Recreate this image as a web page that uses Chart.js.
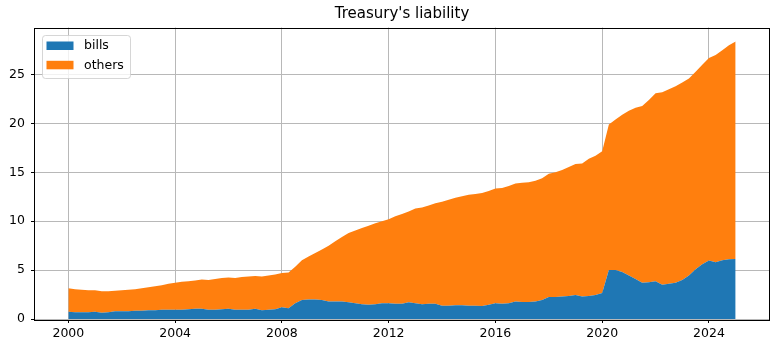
<!DOCTYPE html>
<html lang="en">
<head>
    <meta charset="UTF-8" />
    <title>Treasury's liability</title>
    <script src="https://cdn.jsdelivr.net/npm/chart.js"></script>
    <style>
        body {
            margin: 0;
            background: #fff;
        }
        canvas {
            display: block;
        }
    </style>
</head>
<body>
    <canvas id="chart" width="780" height="352"></canvas>

    <script>
        // quarterly, 2000Q1 .. 2025Q1
        const firstYear = 2000;
        const bills = [
            0.75, 0.70, 0.70, 0.70, 0.75, 0.65, 0.70, 0.80,
            0.80, 0.80, 0.85, 0.85, 0.90, 0.90, 0.95, 0.95,
            0.95, 0.95, 1.00, 1.05, 1.05, 0.95, 0.95, 1.00,
            1.05, 0.95, 0.95, 0.95, 1.05, 0.90, 0.95, 1.00,
            1.20, 1.10, 1.60, 1.95, 2.00, 2.00, 1.95, 1.80,
            1.78, 1.78, 1.72, 1.60, 1.50, 1.47, 1.50, 1.60,
            1.60, 1.55, 1.55, 1.72, 1.60, 1.50, 1.55, 1.55,
            1.35, 1.35, 1.40, 1.40, 1.35, 1.35, 1.33, 1.45,
            1.60, 1.55, 1.60, 1.78, 1.75, 1.74, 1.80, 1.95,
            2.25, 2.25, 2.30, 2.35, 2.46, 2.30, 2.36, 2.46,
            2.65, 5.00, 5.00, 4.80, 4.45, 4.10, 3.72, 3.75,
            3.85, 3.50, 3.60, 3.72, 4.00, 4.45, 5.10, 5.60,
            5.98, 5.80, 6.00, 6.10, 6.15
        ];
        const others = [
            2.40, 2.35, 2.30, 2.25, 2.20, 2.20, 2.15, 2.10,
            2.15, 2.20, 2.20, 2.30, 2.35, 2.45, 2.50, 2.65,
            2.75, 2.85, 2.85, 2.90, 3.00, 3.05, 3.15, 3.20,
            3.20, 3.25, 3.35, 3.40, 3.35, 3.45, 3.50, 3.55,
            3.50, 3.65, 3.75, 4.05, 4.40, 4.75, 5.15, 5.70,
            6.17, 6.62, 7.08, 7.45, 7.80, 8.08, 8.30, 8.40,
            8.60, 8.95, 9.20, 9.28, 9.70, 9.90, 10.05, 10.30,
            10.65, 10.85, 11.00, 11.15, 11.35, 11.45, 11.57, 11.65,
            11.75, 11.85, 12.00, 12.07, 12.20, 12.26, 12.35, 12.45,
            12.60, 12.75, 12.95, 13.20, 13.39, 13.60, 14.04, 14.24,
            14.50, 14.90, 15.40, 16.10, 16.85, 17.50, 18.08, 18.65,
            19.25, 19.70, 19.90, 20.08, 20.20, 20.15, 20.20, 20.40,
            20.72, 21.20, 21.50, 21.90, 22.25
        ];
        const xTicks = [2000, 2004, 2008, 2012, 2016, 2020, 2024];
        const yTicks = [0, 5, 10, 15, 20, 25];

        const quarters = bills.map((_, i) => firstYear + i / 4);

        const font = { family: "'DejaVu Sans', sans-serif", size: 12.5 };

        // frame + legend box, drawn last so they sit on top
        const frameAndLegend = {
            id: 'frameAndLegend',
            afterDraw(chart) {
                const ctx = chart.ctx;
                const a = chart.chartArea;
                ctx.save();
                ctx.strokeStyle = '#000';
                ctx.lineWidth = 1;
                ctx.strokeRect(Math.round(a.left) - 0.5, Math.round(a.top) + 0.5,
                    Math.round(a.right - a.left) + 1, Math.round(a.bottom - a.top));

                // legend
                const bx = a.left + 7, by = a.top + 7.5, bw = 88, bh = 43;
                ctx.globalAlpha = 0.8;
                ctx.fillStyle = '#fff';
                ctx.strokeStyle = '#cccccc';
                ctx.beginPath();
                ctx.roundRect(bx + 0.5, by + 0.5, bw, bh, 3);
                ctx.fill();
                ctx.stroke();
                ctx.globalAlpha = 1;

                ctx.font = font.size + 'px ' + font.family;
                ctx.textBaseline = 'middle';
                chart.data.datasets.forEach((ds, i) => {
                    const y = by + 6.5 + i * 19.3;
                    ctx.fillStyle = ds.backgroundColor;
                    ctx.fillRect(bx + 4.5, y, 27, 8.5);
                    ctx.fillStyle = '#000';
                    ctx.fillText(ds.label, bx + 42, y + 4.5);
                });
                ctx.restore();
            }
        };

        new Chart(document.getElementById('chart'), {
            type: 'line',
            data: {
                datasets: [
                    {
                        label: 'bills',
                        data: quarters.map((q, i) => ({ x: q, y: bills[i] })),
                        backgroundColor: '#1f77b4',
                        borderColor: '#1f77b4',
                        borderWidth: 0,
                        pointRadius: 0,
                        fill: 'origin'
                    },
                    {
                        label: 'others',
                        data: quarters.map((q, i) => ({ x: q, y: others[i] })),
                        backgroundColor: '#ff7f0e',
                        borderColor: '#ff7f0e',
                        borderWidth: 0,
                        pointRadius: 0,
                        fill: '-1'
                    }
                ]
            },
            options: {
                responsive: false,
                animation: false,
                devicePixelRatio: 1,
                layout: { padding: { left: 0, right: 11, top: 0, bottom: 0 } },
                plugins: {
                    legend: { display: false },
                    tooltip: { enabled: false },
                    title: {
                        display: true,
                        text: "Treasury's liability",
                        color: '#000',
                        fullSize: false,
                        font: { family: font.family, size: 15, weight: 'normal' },
                        padding: { top: 5, bottom: 4.5 }
                    }
                },
                scales: {
                    x: {
                        type: 'linear',
                        min: 1998.75,
                        max: 2026.25,
                        z: 1,
                        afterBuildTicks: s => { s.ticks = xTicks.map(v => ({ value: v })); },
                        afterFit: s => { s.height = 33; },
                        border: { display: false },
                        grid: { color: '#b8b8b8', lineWidth: 1, tickColor: '#000', tickLength: 4 },
                        ticks: {
                            color: '#000',
                            font: font,
                            padding: 3,
                            maxRotation: 0,
                            callback: v => String(v)
                        }
                    },
                    y: {
                        stacked: true,
                        min: 0,
                        max: 29.82,
                        z: 1,
                        afterBuildTicks: s => { s.ticks = yTicks.map(v => ({ value: v })); },
                        afterFit: s => { s.width = 35; },
                        border: { display: false },
                        grid: { color: '#b8b8b8', lineWidth: 1, tickColor: '#000', tickLength: 4 },
                        ticks: {
                            color: '#000',
                            font: font,
                            padding: 6,
                            callback: v => String(v)
                        }
                    }
                }
            },
            plugins: [frameAndLegend]
        });
    </script>
</body>
</html>
